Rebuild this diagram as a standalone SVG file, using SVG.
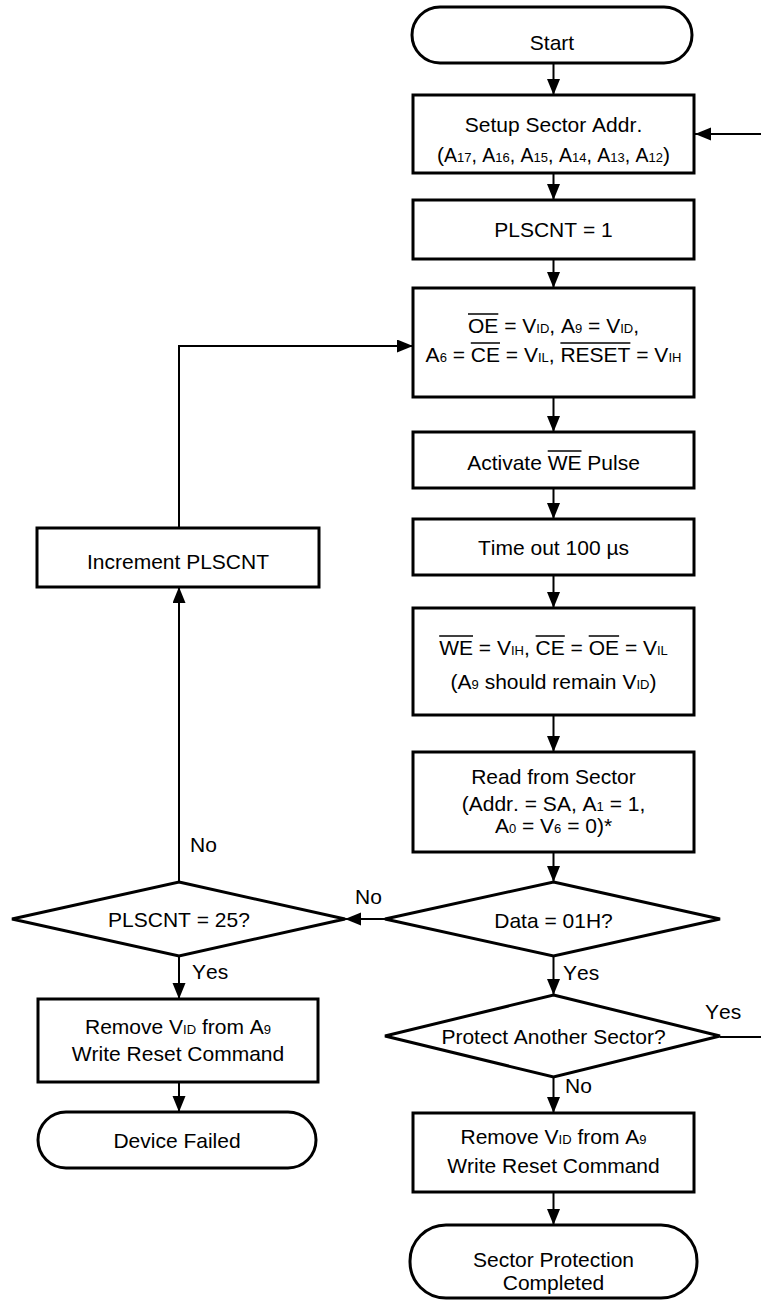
<svg xmlns="http://www.w3.org/2000/svg" width="761" height="1308" viewBox="0 0 761 1308">
<style>
.n{fill:#fff;stroke:#000;stroke-width:3}
.c{fill:none;stroke:#000;stroke-width:2}
.ov{stroke:#000;stroke-width:1.5}
.t{font-family:"Liberation Sans",Arial,sans-serif;font-size:21px;fill:#000;text-anchor:middle;font-kerning:none}
.l{font-family:"Liberation Sans",Arial,sans-serif;font-size:21px;fill:#000;font-kerning:none}
.s{font-size:13px}
.m{font-size:19.5px}
</style>
<defs>
<marker id="ah" markerUnits="userSpaceOnUse" markerWidth="17" markerHeight="14" refX="16" refY="6.5" orient="auto">
<path d="M0,0 L16,6.5 L0,13 z" fill="#000"/>
</marker>
</defs>
<rect width="761" height="1308" fill="#fff"/>
<g id="connectors">
<line class="c" x1="553.5" y1="63" x2="553.5" y2="95" marker-end="url(#ah)"/>
<line class="c" x1="553.5" y1="173" x2="553.5" y2="200" marker-end="url(#ah)"/>
<line class="c" x1="553.5" y1="259" x2="553.5" y2="288" marker-end="url(#ah)"/>
<line class="c" x1="553.5" y1="397" x2="553.5" y2="432" marker-end="url(#ah)"/>
<line class="c" x1="553.5" y1="488" x2="553.5" y2="519" marker-end="url(#ah)"/>
<line class="c" x1="553.5" y1="575" x2="553.5" y2="608" marker-end="url(#ah)"/>
<line class="c" x1="553.5" y1="715" x2="553.5" y2="752" marker-end="url(#ah)"/>
<line class="c" x1="553.5" y1="852" x2="553.5" y2="882" marker-end="url(#ah)"/>
<line class="c" x1="553.5" y1="956" x2="553.5" y2="995" marker-end="url(#ah)"/>
<line class="c" x1="553.5" y1="1077" x2="553.5" y2="1113" marker-end="url(#ah)"/>
<line class="c" x1="553.5" y1="1192" x2="553.5" y2="1225" marker-end="url(#ah)"/>
<polyline class="c" points="720,1037 764,1037 764,134 695,134" marker-end="url(#ah)"/>
<line class="c" x1="385" y1="919" x2="345" y2="919" marker-end="url(#ah)"/>
<line class="c" x1="179" y1="882" x2="179" y2="587" marker-end="url(#ah)"/>
<polyline class="c" points="179,528 179,346 413,346" marker-end="url(#ah)"/>
<line class="c" x1="179" y1="956" x2="179" y2="999" marker-end="url(#ah)"/>
<line class="c" x1="179" y1="1082" x2="179" y2="1112" marker-end="url(#ah)"/>
<text class="l" x="190" y="852">No</text>
<text class="l" x="355" y="904">No</text>
<text class="l" x="192" y="979">Yes</text>
<text class="l" x="563" y="980">Yes</text>
<text class="l" x="705" y="1019">Yes</text>
<text class="l" x="565" y="1093">No</text>
</g>
<g id="start">
<rect class="n" x="412" y="7" width="280" height="56" rx="28"/>
<text class="t" x="552" y="50">Start</text>
</g>
<g id="setup">
<rect class="n" x="413" y="95" width="281" height="78"/>
<text class="t" x="553.5" y="132">Setup Sector Addr.</text>
<text class="t" x="553.5" y="162">(<tspan class="m">A</tspan><tspan class="s">17</tspan><tspan class="m">, A</tspan><tspan class="s">16</tspan><tspan class="m">, A</tspan><tspan class="s">15</tspan><tspan class="m">, A</tspan><tspan class="s">14</tspan><tspan class="m">, A</tspan><tspan class="s">13</tspan><tspan class="m">, A</tspan><tspan class="s">12</tspan>)</text>
</g>
<g id="plscnt1">
<rect class="n" x="413" y="200" width="281" height="59"/>
<text class="t" x="553.5" y="237">PLSCNT = 1</text>
</g>
<g id="setpins">
<rect class="n" x="413" y="288" width="281" height="109"/>
<text class="t" x="553.5" y="333">OE = V<tspan class="s">ID</tspan>, A<tspan class="s">9</tspan> = V<tspan class="s">ID</tspan>,</text>
<text class="t" x="553.5" y="362">A<tspan class="s">6</tspan> = CE = V<tspan class="s">IL</tspan>, RESET = V<tspan class="s">IH</tspan></text>
<line class="ov" x1="468" y1="314" x2="498.3" y2="314"/>
<line class="ov" x1="470.8" y1="343" x2="500" y2="343"/>
<line class="ov" x1="560.4" y1="343" x2="630.4" y2="343"/>
</g>
<g id="activate">
<rect class="n" x="413" y="432" width="281" height="56"/>
<text class="t" x="553.5" y="470">Activate WE Pulse</text>
<line class="ov" x1="547.7" y1="451" x2="581.5" y2="451"/>
</g>
<g id="timeout">
<rect class="n" x="413" y="519" width="281" height="56"/>
<text class="t" x="553.5" y="555">Time out 100 µs</text>
</g>
<g id="weset">
<rect class="n" x="413" y="608" width="281" height="107"/>
<text class="t" x="553.5" y="655">WE = V<tspan class="s">IH</tspan>, CE = OE = V<tspan class="s">IL</tspan></text>
<text class="t" x="553.5" y="689">(A<tspan class="s">9</tspan> should remain V<tspan class="s">ID</tspan>)</text>
<line class="ov" x1="439.2" y1="636" x2="473" y2="636"/>
<line class="ov" x1="535.6" y1="636" x2="564.8" y2="636"/>
<line class="ov" x1="588.7" y1="636" x2="619.1" y2="636"/>
</g>
<g id="read">
<rect class="n" x="413" y="752" width="281" height="100"/>
<text class="t" x="553.5" y="784">Read from Sector</text>
<text class="t" x="553.5" y="811">(Addr. = SA, A<tspan class="s">1</tspan> = 1,</text>
<text class="t" x="553.5" y="833">A<tspan class="s">0</tspan> = V<tspan class="s">6</tspan> = 0)*</text>
</g>
<g id="data">
<polygon class="n" points="553.5,882 720,919 553.5,956 385,919"/>
<text class="t" x="553.5" y="928">Data = 01H?</text>
</g>
<g id="another">
<polygon class="n" points="553.5,995 720,1036 553.5,1077 385,1036"/>
<text class="t" x="553.5" y="1044">Protect Another Sector?</text>
</g>
<g id="removeok">
<rect class="n" x="413" y="1113" width="281" height="79"/>
<text class="t" x="553.5" y="1144">Remove V<tspan class="s">ID</tspan> from A<tspan class="s">9</tspan></text>
<text class="t" x="553.5" y="1173">Write Reset Command</text>
</g>
<g id="completed">
<rect class="n" x="410" y="1225" width="287" height="73" rx="36"/>
<text class="t" x="553.5" y="1267">Sector Protection</text>
<text class="t" x="553.5" y="1290">Completed</text>
</g>
<g id="plscnt25">
<polygon class="n" points="179,882 345,919 179,956 12,919"/>
<text class="t" x="179" y="927">PLSCNT = 25?</text>
</g>
<g id="increment">
<rect class="n" x="37" y="528" width="282" height="59"/>
<text class="t" x="178" y="569">Increment PLSCNT</text>
</g>
<g id="removefail">
<rect class="n" x="38" y="999" width="280" height="83"/>
<text class="t" x="178" y="1034">Remove V<tspan class="s">ID</tspan> from A<tspan class="s">9</tspan></text>
<text class="t" x="178" y="1061">Write Reset Command</text>
</g>
<g id="failed">
<rect class="n" x="38" y="1112" width="278" height="56" rx="28"/>
<text class="t" x="177" y="1148">Device Failed</text>
</g>
</svg>
